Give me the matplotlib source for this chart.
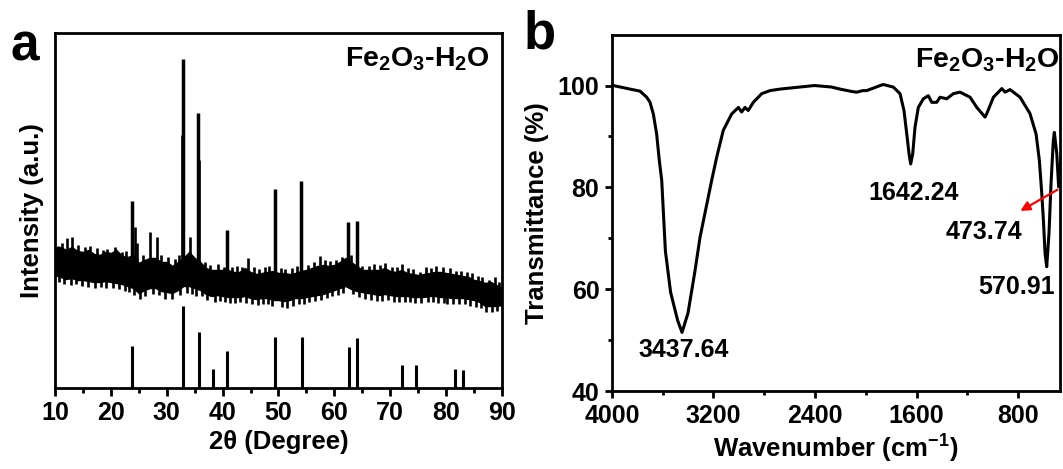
import numpy as np
import matplotlib.pyplot as plt

plt.rcParams['font.family'] = ['Liberation Sans', 'DejaVu Sans']
plt.rcParams['font.weight'] = 'bold'
plt.rcParams['mathtext.fontset'] = 'custom'
plt.rcParams['mathtext.rm'] = 'Liberation Sans:bold'
plt.rcParams['mathtext.it'] = 'Liberation Sans:bold'
plt.rcParams['mathtext.bf'] = 'Liberation Sans:bold'

# ---- panel a: XRD (intensity in arbitrary units) ----
two_theta = np.arange(10, 91)
band_top = [140, 141, 138, 141, 137, 136, 138, 134, 133, 136,
            135, 138, 132, 131, 133, 125, 128, 130, 130, 126,
            126, 122, 126, 130, 136, 130, 126, 120, 118, 118,
            118, 118, 116, 116, 120, 116, 114, 115, 116, 117,
            115, 115, 114, 115, 117, 118, 120, 122, 123, 122,
            123, 126, 130, 126, 122, 118, 118, 118, 118, 120,
            117, 116, 118, 115, 114, 113, 114, 115, 116, 116,
            115, 114, 113, 112, 111, 108, 107, 105, 106, 103,
            100]
band_low = [113, 111, 109, 110, 108, 108, 107, 106, 106, 107,
            106, 105, 104, 102, 100, 95, 98, 100, 100, 97,
            96, 95, 98, 102, 102, 100, 98, 94, 92, 93,
            92, 91, 91, 91, 92, 90, 89, 90, 90, 88,
            88, 87, 88, 90, 90, 91, 92, 93, 94, 96,
            98, 100, 102, 99, 97, 96, 95, 94, 93, 94,
            93, 92, 92, 92, 91, 91, 91, 92, 92, 91,
            91, 90, 90, 90, 89, 88, 86, 82, 82, 82,
            83]

# sharp reflections of the sample
peak_pos = [23.84, 32.97, 35.54, 40.78, 49.43, 54.03, 62.38, 63.99]
peak_int = [187, 329, 275, 158, 199, 207, 166, 167]
# weaker lines and noise spikes above the background
spike_pos = [10.5, 11.2, 12.2, 13.0, 14.1, 15.4, 16.3, 17.5, 18.6, 19.4,
             20.7, 22.0, 22.8, 24.3, 24.6, 25.8, 27.0, 28.2, 29.0, 30.3,
             31.4, 32.2, 32.8, 34.2, 35.8, 36.8, 37.8, 39.2, 40.2, 41.6,
             42.6, 43.5, 44.6, 45.6, 46.6, 47.6, 48.3, 50.4, 51.2, 52.4,
             53.3, 55.2, 56.3, 57.4, 58.3, 59.2, 60.3, 61.3, 62.9, 65.0,
             66.2, 67.1, 68.2, 69.1, 70.4, 71.3, 72.05, 73.2, 74.1, 75.3,
             76.4, 77.3, 78.2, 79.4, 80.7, 81.8, 82.7, 83.8, 84.6, 85.7,
             86.5, 87.6, 88.7, 89.5]
spike_int = [142, 145, 150, 151, 143, 141, 142, 140, 138, 139,
             141, 136, 137, 161, 145, 133, 156, 151, 133, 131,
             129, 133, 253, 151, 228, 126, 123, 124, 121, 121,
             122, 121, 130, 121, 119, 121, 122, 120, 119, 120,
             122, 123, 126, 132, 128, 127, 128, 131, 133, 122,
             122, 124, 123, 125, 121, 121, 124, 120, 119, 116,
             121, 120, 122, 121, 120, 117, 117, 116, 115, 112,
             111, 108, 111, 106]
# noise spikes below the background
dip_pos = [10.8, 11.7, 12.8, 13.7, 14.8, 16.0, 17.1, 18.2, 19.1, 20.3,
           21.4, 22.5, 23.3, 24.1, 25.2, 26.2, 27.5, 28.6, 29.7, 31.0,
           32.4, 33.6, 34.6, 35.3, 36.4, 37.3, 38.6, 39.6, 40.5, 41.3,
           42.3, 43.2, 44.2, 45.3, 46.3, 47.2, 48.2, 48.9, 50.7, 51.6,
           52.6, 53.6, 54.5, 55.5, 56.6, 57.7, 58.7, 59.6, 60.7, 61.6,
           63.3, 64.5, 65.5, 66.6, 67.6, 68.5, 69.6, 70.7, 71.6, 72.6,
           73.6, 74.5, 75.6, 76.7, 77.6, 78.6, 79.7, 80.2, 81.3, 82.4,
           83.4, 84.3, 85.3, 86.2, 87.2, 88.3, 89.2]
dip_int = [106, 104, 103, 104, 102, 101, 100, 101, 100, 100,
           99, 97, 96, 93, 89, 92, 94, 93, 89, 89,
           93, 95, 94, 92, 92, 88, 86, 87, 86, 85,
           85, 86, 85, 84, 83, 84, 84, 82, 81, 80,
           82, 84, 84, 86, 87, 88, 90, 92, 93, 95,
           94, 91, 89, 88, 87, 87, 88, 86, 86, 86,
           86, 85, 85, 86, 86, 85, 85, 84, 84, 84,
           84, 82, 81, 80, 76, 76, 77]

# reference pattern (standard card)
ref_pos = [23.85, 33.0, 35.8, 38.36, 40.8, 49.46, 54.2, 62.6, 63.97, 72.2, 74.66, 81.65, 83.08]
ref_int = [42, 82, 56, 19, 37, 51, 51, 41, 50, 23, 23, 19, 18]

# ---- panel b: FTIR ----
wavenumber = [4000, 3990, 3858, 3779, 3726, 3700, 3674, 3648, 3627, 3608,
              3579, 3538, 3483, 3448, 3401, 3347, 3306, 3214, 3175, 3123,
              3057, 3004, 2978, 2952, 2926, 2886, 2820, 2755, 2676, 2405,
              2268, 2203, 2104, 2071, 2023, 1993, 1886, 1862, 1783, 1730,
              1699, 1677, 1659, 1646, 1630, 1612, 1586, 1546, 1507, 1480,
              1441, 1415, 1362, 1310, 1257, 1178, 1125, 1060, 1046, 994,
              928, 902, 863, 784, 706, 658, 632, 613, 600, 587,
              574, 556, 540, 522, 514, 495, 480, 440]
transmittance = [100, 100, 99.3, 98.9, 97.7, 96.7, 94.4, 90.5, 85.3, 81.4,
                 67.5, 59.4, 53.9, 51.5, 55.3, 63.4, 70.2, 81.4, 85.9, 91.2,
                 94.4, 95.7, 94.8, 95.7, 95.1, 96.7, 98.4, 99.0, 99.3, 100,
                 99.7, 99.3, 98.8, 98.7, 99.0, 99.0, 100, 100.2, 99.7, 98.4,
                 95.1, 90.5, 86.6, 84.6, 86.6, 91.8, 95.7, 97.4, 98.0, 96.7,
                 96.7, 97.7, 97.4, 98.4, 98.7, 97.7, 95.7, 93.8, 94.5, 97.7,
                 99.4, 98.7, 99.2, 97.7, 94.5, 90.5, 85.3, 78.8, 73.5, 67.0,
                 64.4, 71.0, 80.8, 89.2, 90.8, 86.7, 80.1, 92]

ir_labels = ['3437.64', '1642.24', '473.74', '570.91']
ir_label_x = [3433, 1620, 1069, 809]
ir_label_y = [48.0, 78.8, 71.2, 60.4]

fig = plt.figure(figsize=(10.63, 4.69), dpi=100)
ax1 = fig.add_axes([0.0517, 0.1727, 0.4205, 0.757])
ax2 = fig.add_axes([0.5757, 0.1663, 0.4214, 0.7599])

# ---------- panel a ----------
band_top = np.array(band_top)
band_low = np.array(band_low)
mid = (band_top + band_low) / 2
ax1.fill_between(two_theta, band_low, band_top, color='black', lw=1.0)
ax1.vlines(spike_pos, np.interp(spike_pos, two_theta, mid), spike_int, color='black', lw=1.9)
ax1.vlines(dip_pos, dip_int, np.interp(dip_pos, two_theta, mid), color='black', lw=1.9)
ax1.vlines(peak_pos, np.interp(peak_pos, two_theta, mid), peak_int, color='black', lw=2.5)
ax1.vlines(ref_pos, 0, ref_int, color='black', lw=2.2)

ax1.set_xlim(10, 90)
ax1.set_ylim(0, 355)
ax1.set_xticks(range(10, 91, 10))
ax1.set_xticks(range(15, 90, 10), minor=True)
ax1.set_yticks([])
ax1.tick_params(axis='x', which='major', direction='out', length=6, width=2, labelsize=18, pad=3)
ax1.tick_params(axis='x', which='minor', direction='out', length=3.5, width=2)
ax1.set_xlabel('2θ (Degree)', fontsize=18.5, fontweight='bold', labelpad=4)
ax1.set_ylabel('Intensity (a.u.)', fontsize=18.5, fontweight='bold', labelpad=8)
ax1.text(0.973, 0.965, r'Fe$_2$O$_3$-H$_2$O', transform=ax1.transAxes,
         ha='right', va='top', fontsize=20.5, fontweight='bold')
ax1.text(-0.1, 1.03, 'a', transform=ax1.transAxes, ha='left', va='top',
         fontsize=37, fontweight='bold')

# ---------- panel b ----------
ax2.plot(wavenumber, transmittance, color='black', lw=2.2)
ax2.set_xlim(4000, 470)
ax2.set_ylim(40, 110)
ax2.set_xticks([4000, 3200, 2400, 1600, 800])
ax2.set_xticks([3600, 2800, 2000, 1200], minor=True)
ax2.set_yticks([40, 60, 80, 100])
ax2.set_yticks([50, 70, 90], minor=True)
ax2.tick_params(which='major', direction='out', length=5, width=2, labelsize=18, pad=4)
ax2.tick_params(which='minor', direction='out', length=3, width=2)
ax2.set_xlabel('Wavenumber (cm$^{-1}$)', fontsize=18.5, fontweight='bold', labelpad=4)
ax2.set_ylabel('Transmittance (%)', fontsize=18.5, fontweight='bold', labelpad=6)
for lab, lx, ly in zip(ir_labels, ir_label_x, ir_label_y):
    ax2.text(lx, ly, lab, ha='center', va='center', fontsize=18, fontweight='bold')
ax2.annotate('', xy=(801, 75.1), xytext=(470, 79.8),
             arrowprops=dict(arrowstyle='-|>', color='red', lw=1.6, mutation_scale=14))
ax2.text(1.0, 0.968, r'Fe$_2$O$_3$-H$_2$O', transform=ax2.transAxes,
         ha='right', va='top', fontsize=20.5, fontweight='bold')
ax2.text(-0.198, 1.07, 'b', transform=ax2.transAxes, ha='left', va='top',
         fontsize=38, fontweight='bold')

for ax in (ax1, ax2):
    for s in ax.spines.values():
        s.set_linewidth(2)
    for t in ax.get_xticklabels() + ax.get_yticklabels():
        t.set_fontweight('bold')

fig.savefig('out.png', dpi=100)
